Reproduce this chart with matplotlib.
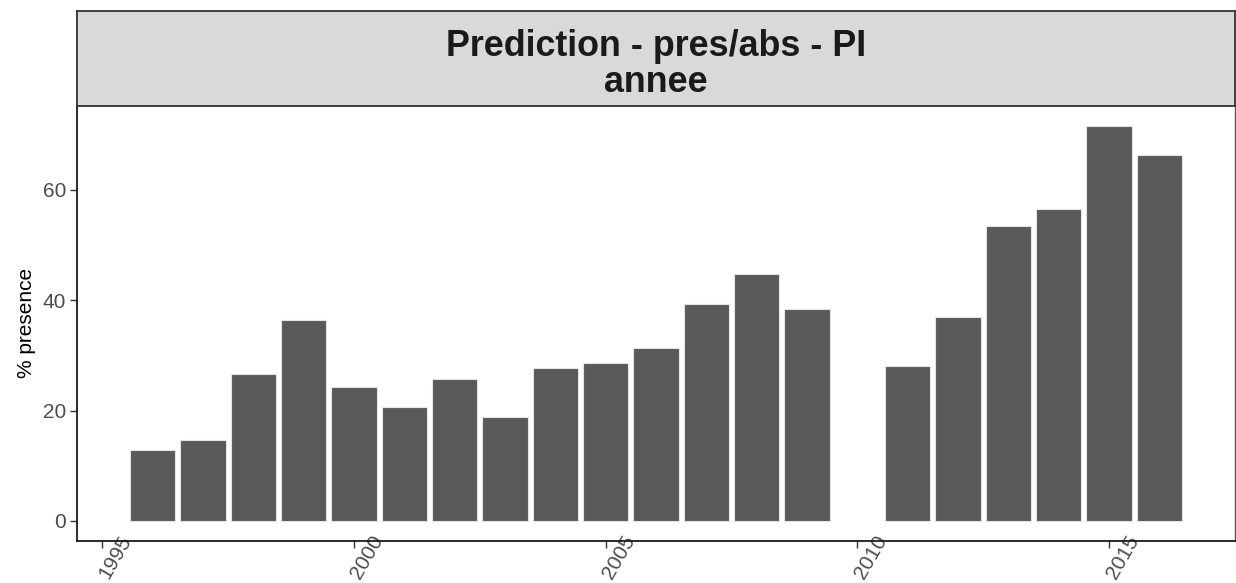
import numpy as np
import matplotlib
matplotlib.use('Agg')
import matplotlib.pyplot as plt
import matplotlib.transforms as mtransforms

plt.rcParams['font.family'] = ['Liberation Sans', 'DejaVu Sans']

# values (percent presence per year, no 2010)
years = [1996, 1997, 1998, 1999, 2000, 2001, 2002, 2003, 2004, 2005,
         2006, 2007, 2008, 2009, 2011, 2012, 2013, 2014, 2015, 2016]
presence = [12.9, 14.6, 26.7, 36.4, 24.3, 20.6, 25.7, 18.9, 27.7, 28.7,
            31.3, 39.4, 44.8, 38.4, 28.0, 37.0, 53.5, 56.5, 71.6, 66.3]
xticks = [1995, 2000, 2005, 2010, 2015]
yticks = [0, 20, 40, 60]
strip_title = 'Prediction - pres/abs - PI\nannee'
ylabel = '% presence'

W, H = 1236, 583
fig = plt.figure(figsize=(W / 100, H / 100), dpi=100)

left, right = 77 / W, 1235 / W
bottom, top = (H - 540.7) / H, (H - 106) / H
strip_top = (H - 11) / H

ax = fig.add_axes([left, bottom, right - left, top - bottom])
ax.bar(years, presence, width=0.9, color='#595959', edgecolor='#e3e3e3', linewidth=0.8)

ax.set_xlim(1994.5, 2017.5)
ax.set_ylim(-3.58, 75.2)
ax.set_xticks(xticks)
ax.set_yticks(yticks)
ax.set_xticklabels([str(t) for t in xticks])
ax.set_ylabel(ylabel, fontsize=15, color='#000000', labelpad=5)

ax.tick_params(axis='both', colors='#333333', labelcolor='#4d4d4d',
               labelsize=15, length=5, width=1)
ax.tick_params(axis='y', pad=3)
ax.tick_params(axis='x', pad=0)

for side in ['left', 'bottom']:
    ax.spines[side].set_color('#1a1a1a')
    ax.spines[side].set_linewidth(1.3)
ax.spines['right'].set_color('#555555')
ax.spines['right'].set_linewidth(1.0)
ax.spines['top'].set_visible(False)

# rotated x labels, shifted so the end of the text sits next to the tick
offset = mtransforms.ScaledTranslation(25 / 100, 11 / 100, fig.dpi_scale_trans)
for lab in ax.get_xticklabels():
    lab.set_rotation(60)
    lab.set_rotation_mode('anchor')
    lab.set_ha('right')
    lab.set_va('center')
    lab.set_transform(lab.get_transform() + offset)

# facet strip
sax = fig.add_axes([left, top, right - left, strip_top - top])
sax.set_facecolor('#d9d9d9')
sax.set_xticks([])
sax.set_yticks([])
for side in sax.spines.values():
    side.set_color('#333333')
    side.set_linewidth(1.3)
sax.text(0.5, 0.438, strip_title, ha='center', va='center', fontsize=25.8,
         fontweight='bold', color='#1a1a1a', linespacing=1.035,
         transform=sax.transAxes)

fig.savefig('out.png', dpi=100)
